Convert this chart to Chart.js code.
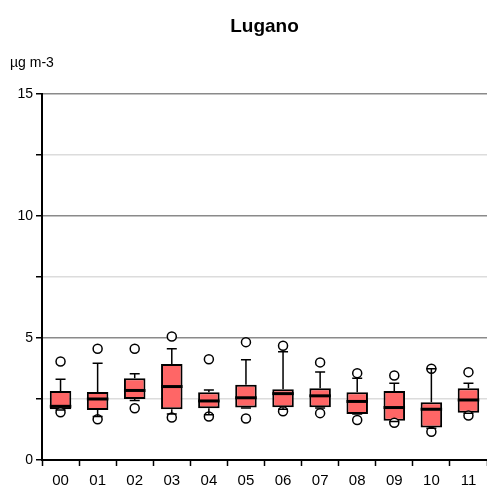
<!DOCTYPE html>
<html>
<head>
<meta charset="utf-8">
<script src="https://cdn.jsdelivr.net/npm/chart.js@4/dist/chart.umd.min.js"></script>
<style>
  html, body { margin: 0; padding: 0; background: #fff; }
  #box { width: 487px; height: 489px; }
</style>
</head>
<body>
<div id="box"><canvas id="chart"></canvas></div>
<script>
// monthly box plot, Lugano
const labels = ['00', '01', '02', '03', '04', '05', '06', '07', '08', '09', '10', '11'];
const q1 = [2.08, 2.05, 2.50, 2.08, 2.12, 2.15, 2.16, 2.16, 1.89, 1.61, 1.33, 1.94];
const q3 = [2.83, 2.79, 3.35, 3.93, 2.78, 3.08, 2.90, 2.94, 2.78, 2.83, 2.37, 2.94];
const median = [2.20, 2.50, 2.85, 3.01, 2.42, 2.55, 2.72, 2.63, 2.40, 2.15, 2.08, 2.46];
const whiskerLow = [2.05, 1.78, 2.44, 1.89, 1.85, 2.13, 2.08, 2.13, 1.89, 1.58, 1.30, 1.92];
const whiskerHigh = [3.31, 3.97, 3.53, 4.56, 2.87, 4.11, 4.44, 3.61, 3.35, 3.15, 3.74, 3.15];
const outlierHigh = [4.04, 4.56, 4.56, 5.06, 4.13, 4.83, 4.68, 4.00, 3.56, 3.46, 3.74, 3.60];
const outlierLow = [1.96, 1.67, 2.12, 1.74, 1.78, 1.70, 2.00, 1.92, 1.64, 1.53, 1.16, 1.82];

const font = '"Liberation Sans", Arial, sans-serif';

// whiskers, caps, medians and the headings
const boxExtras = {
    id: 'boxExtras',
    afterDatasetsDraw(chart) {
        const ctx = chart.ctx;
        const y = chart.scales.y;
        const bars = chart.getDatasetMeta(0).data;
        ctx.save();
        ctx.strokeStyle = '#000';
        bars.forEach((bar, i) => {
            const x = bar.x;
            const half = bar.width / 2;
            const cap = 5;
            ctx.lineWidth = 1.5;
            ctx.beginPath();
            ctx.moveTo(x, y.getPixelForValue(q3[i]));
            ctx.lineTo(x, y.getPixelForValue(whiskerHigh[i]));
            ctx.moveTo(x, y.getPixelForValue(q1[i]));
            ctx.lineTo(x, y.getPixelForValue(whiskerLow[i]));
            ctx.moveTo(x - cap, y.getPixelForValue(whiskerHigh[i]));
            ctx.lineTo(x + cap, y.getPixelForValue(whiskerHigh[i]));
            ctx.moveTo(x - cap, y.getPixelForValue(whiskerLow[i]));
            ctx.lineTo(x + cap, y.getPixelForValue(whiskerLow[i]));
            ctx.stroke();
            ctx.lineWidth = 3;
            ctx.beginPath();
            ctx.moveTo(x - half, y.getPixelForValue(median[i]));
            ctx.lineTo(x + half, y.getPixelForValue(median[i]));
            ctx.stroke();
        });
        ctx.restore();
    },
    afterDraw(chart) {
        const ctx = chart.ctx;
        const area = chart.chartArea;
        ctx.save();
        ctx.fillStyle = '#000';
        ctx.textBaseline = 'middle';
        ctx.textAlign = 'center';
        ctx.font = 'bold 19px ' + font;
        ctx.fillText('Lugano', (area.left + area.right) / 2, 27);
        ctx.textAlign = 'left';
        ctx.font = '14px ' + font;
        ctx.fillText('µg m-3', 10, 63);
        ctx.restore();
    }
};

const outlierStyle = {
    type: 'line',
    showLine: false,
    pointStyle: 'circle',
    pointRadius: 4.5,
    pointBorderWidth: 1.5,
    pointBorderColor: '#000',
    pointBackgroundColor: '#fff',
    order: 1
};

new Chart(document.getElementById('chart'), {
    type: 'bar',
    data: {
        labels: labels,
        datasets: [
            {
                label: 'box',
                data: q1.map((v, i) => [v, q3[i]]),
                backgroundColor: '#ff6666',
                borderColor: '#000',
                borderWidth: 2,
                borderSkipped: false,
                barPercentage: 0.58,
                categoryPercentage: 1,
                order: 2
            },
            Object.assign({ label: 'high', data: outlierHigh }, outlierStyle),
            Object.assign({ label: 'low', data: outlierLow }, outlierStyle)
        ]
    },
    options: {
        responsive: true,
        maintainAspectRatio: false,
        animation: false,
        layout: {
            autoPadding: false,
            padding: { top: 94, right: -2, bottom: 0, left: 0 }
        },
        plugins: {
            legend: { display: false },
            tooltip: { enabled: false }
        },
        scales: {
            x: {
                offset: true,
                grid: {
                    offset: true,
                    drawOnChartArea: false,
                    drawTicks: true,
                    tickLength: 6,
                    tickColor: '#000',
                    tickWidth: 1.5
                },
                border: { color: '#000', width: 2 },
                ticks: {
                    color: '#000',
                    padding: 6,
                    font: { family: font, size: 15 }
                },
                afterFit(scale) {
                    scale.height = 29;
                    // the axis runs to the right edge of the canvas
                    scale.paddingLeft = 0;
                    scale.paddingRight = 0;
                }
            },
            y: {
                min: 0,
                max: 15,
                grid: {
                    color: (c) => (c.tick && c.tick.value % 5 === 0) ? '#8a8a8a' : '#dcdcdc',
                    lineWidth: 1.5,
                    tickLength: 6,
                    tickColor: '#000',
                    tickWidth: 1.5
                },
                border: { color: '#000', width: 2 },
                ticks: {
                    stepSize: 2.5,
                    color: '#000',
                    padding: 3,
                    font: { family: font, size: 14 },
                    callback: (v) => (v % 5 === 0 ? v : '')
                },
                afterFit(scale) { scale.width = 42; }
            }
        }
    },
    plugins: [boxExtras]
});
</script>
</body>
</html>
